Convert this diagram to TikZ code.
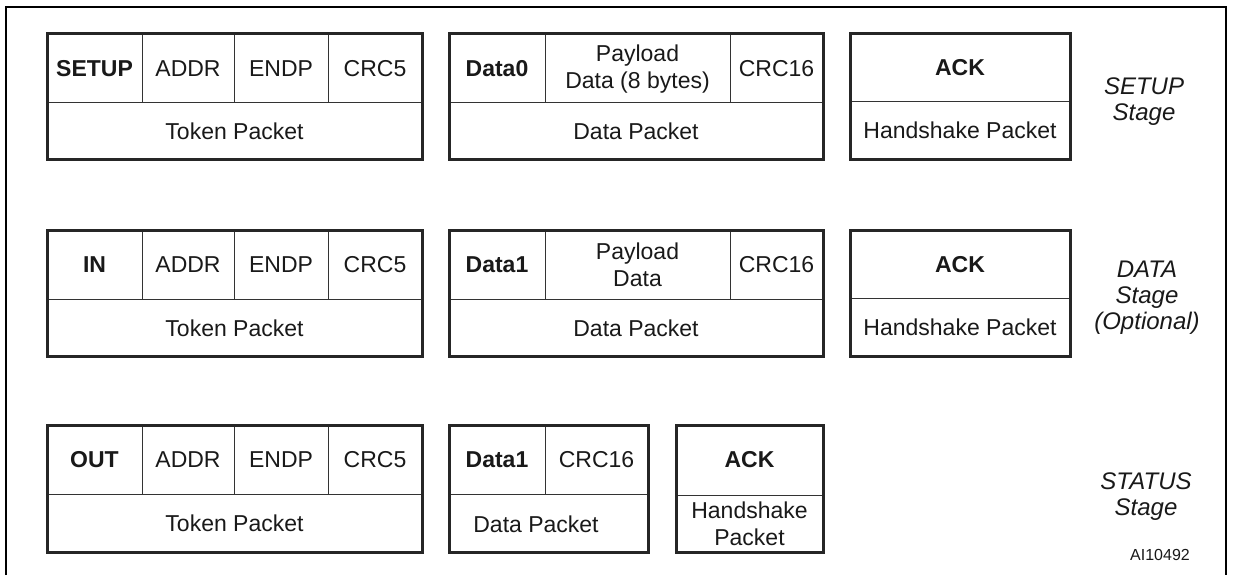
\documentclass[tikz,border=0pt]{standalone}
\usepackage{fontspec}
\setmainfont{Liberation Sans}
\begin{document}
\begin{tikzpicture}[x=0.5pt,y=-0.5pt,
    caja/.style={line width=1.5pt, draw=black!85},
    linea/.style={line width=0.5pt, draw=black!80},
    campo/.style={font=\fontsize{11.5}{13.5}\selectfont, align=center, inner sep=0pt, text=black!90},
    etapa/.style={font=\fontsize{12}{13}\selectfont\itshape, align=center, inner sep=0pt, text=black!90}]
    \useasboundingbox (0,0) rectangle (1235,575);

    % Marco exterior
    \draw[line width=1.3pt] (6,575) -- (6,7) -- (1226,7) -- (1226,575);

    % Etapa SETUP
    \draw[linea] (47,102) -- (422,102);
    \draw[linea] (142,33) -- (142,102);
    \draw[linea] (234,33) -- (234,102);
    \draw[linea] (328,33) -- (328,102);
    \draw[caja] (47,33) rectangle (422,159);
    \node[campo] (setup) at (94.5,69) {\textbf{SETUP}};
    \node[campo] (addrA) at (188,69) {ADDR};
    \node[campo] (endpA) at (281,69) {ENDP};
    \node[campo] (crcA) at (375,69) {CRC5};
    \node[campo] (tokenA) at (234.5,131) {Token Packet};

    \draw[linea] (449,102) -- (823,102);
    \draw[linea] (545,33) -- (545,102);
    \draw[linea] (730,33) -- (730,102);
    \draw[caja] (449,33) rectangle (823,159);
    \node[campo] (dataA) at (497,69) {\textbf{Data0}};
    \node[campo] (payA) at (637.5,69) {Payload\\Data (8 bytes)};
    \node[campo] (crcdA) at (776.5,69) {CRC16};
    \node[campo] (paqA) at (636,131) {Data Packet};

    \draw[linea] (850,101) -- (1070,101);
    \draw[caja] (850,33) rectangle (1070,159);
    \node[campo] (ackA) at (960,68) {\textbf{ACK}};
    \node[campo] (handA) at (960,130) {Handshake Packet};

    \node[etapa] (etapaA) at (1144,102) {SETUP\\Stage};

    % Etapa DATA
    \draw[linea] (47,299) -- (422,299);
    \draw[linea] (142,230) -- (142,299);
    \draw[linea] (234,230) -- (234,299);
    \draw[linea] (328,230) -- (328,299);
    \draw[caja] (47,230) rectangle (422,356);
    \node[campo] (inB) at (94.5,265) {\textbf{IN}};
    \node[campo] (addrB) at (188,265) {ADDR};
    \node[campo] (endpB) at (281,265) {ENDP};
    \node[campo] (crcB) at (375,265) {CRC5};
    \node[campo] (tokenB) at (234.5,328) {Token Packet};

    \draw[linea] (449,299) -- (823,299);
    \draw[linea] (545,230) -- (545,299);
    \draw[linea] (730,230) -- (730,299);
    \draw[caja] (449,230) rectangle (823,356);
    \node[campo] (dataB) at (497,265) {\textbf{Data1}};
    \node[campo] (payB) at (637.5,265) {Payload\\Data};
    \node[campo] (crcdB) at (776.5,265) {CRC16};
    \node[campo] (paqB) at (636,328) {Data Packet};

    \draw[linea] (850,298) -- (1070,298);
    \draw[caja] (850,230) rectangle (1070,356);
    \node[campo] (ackB) at (960,265) {\textbf{ACK}};
    \node[campo] (handB) at (960,327) {Handshake Packet};

    \node[etapa] (etapaB) at (1147,298) {DATA\\Stage\\(Optional)};

    % Etapa STATUS
    \draw[linea] (47,494) -- (422,494);
    \draw[linea] (142,425) -- (142,494);
    \draw[linea] (234,425) -- (234,494);
    \draw[linea] (328,425) -- (328,494);
    \draw[caja] (47,425) rectangle (422,552);
    \node[campo] (outC) at (94.5,460) {\textbf{OUT}};
    \node[campo] (addrC) at (188,460) {ADDR};
    \node[campo] (endpC) at (281,460) {ENDP};
    \node[campo] (crcC) at (375,460) {CRC5};
    \node[campo] (tokenC) at (234.5,523) {Token Packet};

    \draw[linea] (449,494) -- (648,494);
    \draw[linea] (545,425) -- (545,494);
    \draw[caja] (449,425) rectangle (648,552);
    \node[campo] (dataC) at (497,460) {\textbf{Data1}};
    \node[campo] (crcdC) at (596.5,460) {CRC16};
    \node[campo] (paqC) at (536,524) {Data Packet};

    \draw[linea] (676,495) -- (823,495);
    \draw[caja] (676,425) rectangle (823,552);
    \node[campo] (ackC) at (749.5,460) {\textbf{ACK}};
    \node[campo] (handC) at (749.5,524) {Handshake\\Packet};

    \node[etapa] (etapaC) at (1146,497) {STATUS\\Stage};
    \node[campo, font=\fontsize{8}{9}\selectfont] (codigo) at (1160,555) {AI10492};
\end{tikzpicture}
\end{document}
